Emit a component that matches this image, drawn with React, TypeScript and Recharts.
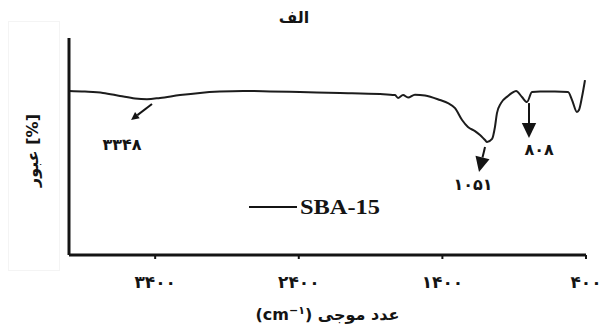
import React from 'react';
import { LineChart, Line, XAxis, YAxis, ReferenceLine, ReferenceDot, Legend } from 'recharts';

// wavenumber (cm-1) and transmittance (arbitrary %)
const wavenumbers = [4000, 3889, 3763, 3645, 3540, 3457, 3366, 3227, 3088, 2949, 2788, 2600, 2392, 2113, 1834, 1730, 1709, 1674, 1639, 1591, 1521, 1417, 1361, 1312, 1263, 1222, 1173, 1138, 1103, 1089, 1054, 1034, 1020, 992, 943, 915, 887, 846, 811, 776, 720, 616, 525, 497, 463, 449, 428, 407];
const transmittance = [75.6, 75.3, 74.7, 73.3, 72.1, 71.8, 72.4, 73.7, 74.7, 75.3, 75.6, 75.4, 75.1, 74.7, 74.2, 73.7, 72.4, 73.7, 72.6, 73.9, 73.5, 71.4, 70.0, 67.7, 62.2, 59.0, 57.1, 55.3, 53.0, 52.1, 53.5, 59.0, 65.4, 70.0, 73.3, 74.7, 75.6, 72.8, 70.5, 75.1, 75.3, 75.3, 75.1, 71.4, 65.9, 66.8, 72.8, 80.6];

const xTicks = [3400, 2400, 1400, 400];
const xTickLabels = ['۳۴۰۰', '۲۴۰۰', '۱۴۰۰', '۴۰۰'];

const seriesName = 'SBA-15';
const titleText = 'الف';
const yLabelText = 'عبور [%]';
const xLabelArabic = 'عدد موجی';

// annotation arrows: start (w,t) -> end (w,t), label position
const annotationLabels = ['۳۳۴۸', '۱۰۵۱', '۸۰۸'];
const arrowFromW = [3422, 1103, 797];
const arrowFromT = [69.6, 49.8, 70.0];
const arrowToW = [3568, 1145, 797];
const arrowToT = [62.2, 38.2, 53.9];
const labelW = [3631, 1187, 727];
const labelT = [50.7, 32.3, 48.8];
const headSizes = [8, 15, 15];

const data = wavenumbers.map((w, i) => ({ w, t: transmittance[i] }));

const ink = '#141414';
const arabicFont = '"DejaVu Sans", "Liberation Sans", sans-serif';

function makeArrow(size: number) {
  return (p: any) => {
    const { x1, y1, x2, y2 } = p;
    const dx = x2 - x1;
    const dy = y2 - y1;
    const len = Math.sqrt(dx * dx + dy * dy) || 1;
    const ux = dx / len;
    const uy = dy / len;
    const hw = size * 0.48;
    const bx = x2 - ux * size;
    const by = y2 - uy * size;
    const pts = `${x2},${y2} ${bx - uy * hw},${by + ux * hw} ${bx + uy * hw},${by - ux * hw}`;
    return (
      <g>
        <line x1={x1} y1={y1} x2={bx} y2={by} stroke={ink} strokeWidth={2} />
        <polygon points={pts} fill={ink} />
      </g>
    );
  };
}

function makeLabel(text: string) {
  return (p: any) => (
    <text
      x={p.cx}
      y={p.cy}
      textAnchor="middle"
      dominantBaseline="central"
      fontFamily={arabicFont}
      fontWeight="bold"
      fontSize={16}
      letterSpacing={3}
      fill={ink}
    >
      {text}
    </text>
  );
}

const renderLegend = () => (
  <svg width={150} height={28}>
    <line x1={4} y1={13} x2={52} y2={13} stroke={ink} strokeWidth={1.8} />
    <text
      x={55}
      y={20}
      fontFamily='"Liberation Serif", "Times New Roman", serif'
      fontWeight="bold"
      fontSize={20}
      textLength={80}
      lengthAdjust="spacingAndGlyphs"
      fill={ink}
    >
      {seriesName}
    </text>
  </svg>
);

const XLabel = (props: any) => {
  const vb = props.viewBox;
  return (
    <text
      x={vb.x + vb.width / 2}
      y={vb.y + 65}
      textAnchor="middle"
      fontFamily={arabicFont}
      fontWeight="bold"
      fontSize={16}
      fill={ink}
      direction="ltr"
    >
      (cm<tspan fontSize={11} dy={-6}>−۱</tspan><tspan dy={6}>)</tspan> {xLabelArabic}
    </text>
  );
};

const YLabel = (props: any) => {
  const vb = props.viewBox;
  const cx = 32;
  const cy = vb.y + vb.height / 2 + 4;
  return (
    <text
      x={cx}
      y={cy}
      transform={`rotate(-90, ${cx}, ${cy})`}
      textAnchor="middle"
      dominantBaseline="central"
      fontFamily={arabicFont}
      fontWeight="bold"
      fontSize={16}
      fill={ink}
    >
      {yLabelText}
    </text>
  );
};

export default function App() {
  return (
    <div style={{ position: 'absolute', left: 0, top: 0, width: 605, height: 332, background: '#fff' }}>
      <div
        style={{
          position: 'absolute',
          left: 8,
          top: 21,
          width: 52,
          height: 250,
          border: '1px solid #f4f4f4',
          boxSizing: 'border-box',
        }}
      />
      <div
        style={{
          position: 'absolute',
          left: 0,
          top: 8,
          width: 588,
          textAlign: 'center',
          fontFamily: arabicFont,
          fontWeight: 'bold',
          fontSize: 16,
          color: ink,
        }}
      >
        {titleText}
      </div>
      <LineChart
        width={605}
        height={332}
        data={data}
        margin={{ top: 38, right: 19, bottom: 47, left: 68 }}
        style={{ position: 'absolute', left: 0, top: 0 }}
      >
        <XAxis
          dataKey="w"
          type="number"
          domain={[400, 4000]}
          reversed
          ticks={xTicks}
          tickFormatter={(v: number) => xTickLabels[xTicks.indexOf(v)]}
          axisLine={{ stroke: ink, strokeWidth: 3 }}
          tickLine={{ stroke: ink, strokeWidth: 2 }}
          tickSize={4}
          tickMargin={17}
          height={30}
          tick={{ fill: ink, fontSize: 17, fontWeight: 'bold', fontFamily: arabicFont, letterSpacing: 2 }}
          interval={0}
          allowDataOverflow
          label={<XLabel />}
        />
        <YAxis
          type="number"
          domain={[0, 100]}
          width={1}
          tick={false}
          tickLine={false}
          axisLine={{ stroke: ink, strokeWidth: 3 }}
          label={<YLabel />}
        />
        <Legend
          verticalAlign="middle"
          align="center"
          layout="horizontal"
          content={renderLegend}
          wrapperStyle={{ position: 'absolute', left: 245, top: 194, width: 150, height: 28 }}
        />
        <Line
          type="monotone"
          dataKey="t"
          name={seriesName}
          stroke="#1c1c1c"
          strokeWidth={2}
          dot={false}
          activeDot={false}
          isAnimationActive={false}
        />
        {annotationLabels.map((lab, i) => (
          <ReferenceLine
            key={'a' + i}
            segment={[
              { x: arrowFromW[i], y: arrowFromT[i] },
              { x: arrowToW[i], y: arrowToT[i] },
            ]}
            ifOverflow="visible"
            shape={makeArrow(headSizes[i])}
          />
        ))}
        {annotationLabels.map((lab, i) => (
          <ReferenceDot
            key={'l' + i}
            x={labelW[i]}
            y={labelT[i]}
            r={0}
            ifOverflow="visible"
            shape={makeLabel(lab)}
          />
        ))}
      </LineChart>
    </div>
  );
}
